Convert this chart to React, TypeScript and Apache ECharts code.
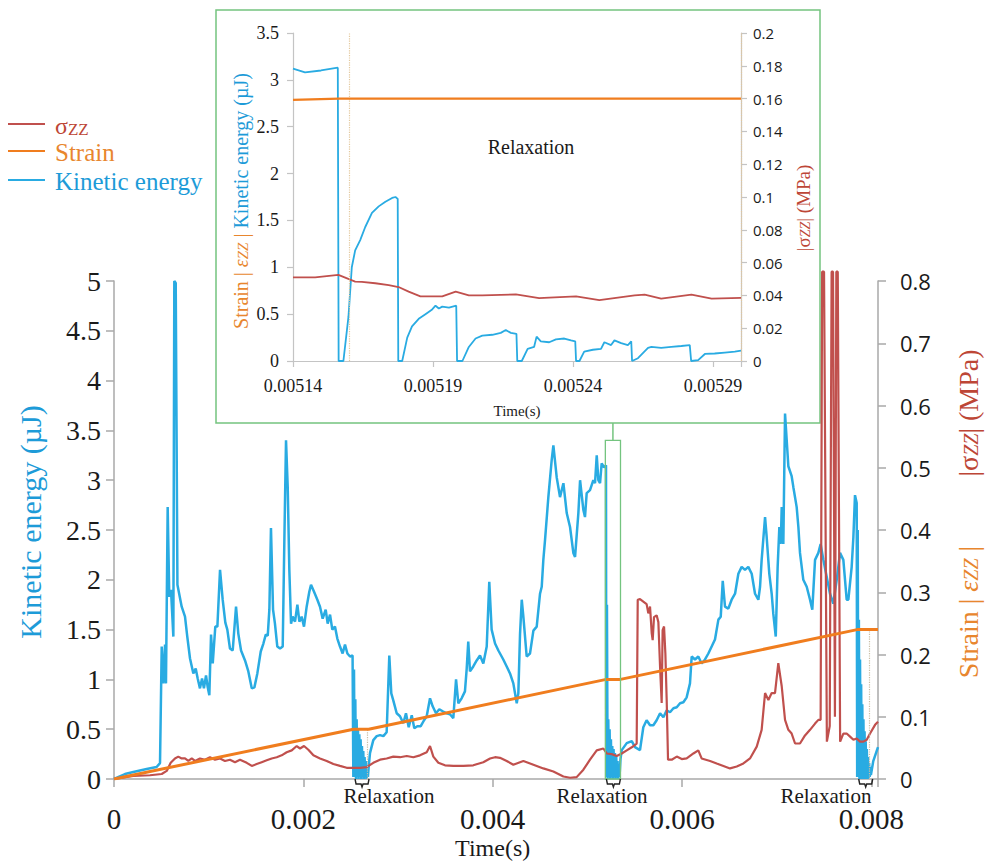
import React, { useEffect, useRef } from "react";
import * as echarts from "echarts";

// ---------------- colours / fonts ----------------
const BLUE = "#29abe2";
const BLUE_TXT = "#1d9bd8";
const RED = "#c0504d";
const RED_TXT = "#bd4636";
const ORANGE = "#f07d1e";
const ORANGE_TXT = "#e8862e";
const GREEN = "#74c47f";
const AXIS = "#a8a8a8";
const SERIF = "'Liberation Serif', 'Times New Roman', serif";
const SANS = "'Open Sans', 'Liberation Sans', sans-serif";

// ---------------- main chart data (time in ms) ----------------
// Kinetic energy (µJ)
const kineticMain: [number, number][] = [
  [0, 0], [0.116, 0.05], [0.204, 0.07], [0.345, 0.1], [0.45, 0.12], [0.486, 0.16], [0.504, 1.33], [0.521, 0.96],
  [0.539, 1.35], [0.549, 0.96], [0.567, 2.73], [0.584, 1.83], [0.602, 1.9], [0.627, 1.43], [0.637, 5.0], [0.652, 4.98],
  [0.67, 1.95], [0.715, 1.73], [0.75, 1.63], [0.774, 1.43], [0.803, 1.21], [0.838, 1.06], [0.863, 1.11], [0.884, 1.01],
  [0.908, 0.91], [0.93, 1.01], [0.95, 0.91], [0.972, 1.04], [0.99, 0.92], [1.007, 0.84], [1.025, 1.45], [1.043, 1.16],
  [1.07, 1.53], [1.092, 1.53], [1.12, 2.1], [1.148, 1.8], [1.176, 1.57], [1.197, 1.5], [1.225, 1.31], [1.254, 1.29],
  [1.289, 1.73], [1.313, 1.46], [1.342, 1.29], [1.384, 1.19], [1.419, 1.08], [1.455, 0.91], [1.483, 0.92], [1.514, 1.06],
  [1.55, 1.28], [1.578, 1.36], [1.603, 1.45], [1.624, 1.44], [1.641, 1.7], [1.658, 2.52], [1.68, 1.7], [1.7, 1.56],
  [1.725, 1.33], [1.754, 1.31], [1.782, 1.33], [1.8, 2.43], [1.817, 3.4], [1.835, 2.93], [1.852, 2.1], [1.87, 1.56],
  [1.887, 1.63], [1.912, 1.58], [1.937, 1.75], [1.958, 1.58], [1.982, 1.63], [2.007, 1.53], [2.035, 1.73], [2.063, 1.88],
  [2.081, 1.95], [2.113, 1.88], [2.148, 1.8], [2.176, 1.73], [2.204, 1.61], [2.236, 1.7], [2.257, 1.56], [2.282, 1.65],
  [2.306, 1.5], [2.334, 1.53], [2.359, 1.41], [2.387, 1.33], [2.415, 1.26], [2.44, 1.35], [2.465, 1.26], [2.493, 1.23],
  [2.52, 1.24],
  // relaxation 1
  [2.528, 0.02], [2.535, 1.1], [2.542, 0.02], [2.549, 0.8], [2.556, 0], [2.563, 0.6], [2.57, 0.02], [2.577, 0.5],
  [2.584, 0], [2.591, 0.45], [2.598, 0.02], [2.605, 0.4], [2.612, 0], [2.619, 0.33], [2.626, 0.02], [2.633, 0.28],
  [2.64, 0], [2.647, 0.22], [2.654, 0.02], [2.661, 0.18], [2.668, 0], [2.675, 0.14], [2.682, 0.02], [2.69, 0.12],
  [2.704, 0.26], [2.739, 0.39], [2.775, 0.43], [2.81, 0.44], [2.845, 0.43], [2.88, 0.47], [2.908, 1.24], [2.929, 0.86],
  [2.95, 0.79], [2.986, 0.66], [3.021, 0.63], [3.056, 0.56], [3.084, 0.66], [3.113, 0.52], [3.145, 0.64], [3.172, 0.51],
  [3.204, 0.53], [3.24, 0.53], [3.275, 0.59], [3.303, 0.63], [3.338, 0.81], [3.366, 0.73], [3.401, 0.66], [3.436, 0.7],
  [3.472, 0.68], [3.514, 0.66], [3.549, 0.65], [3.584, 0.61], [3.613, 1.0], [3.637, 0.76], [3.672, 0.81], [3.707, 0.88],
  [3.725, 1.1], [3.742, 1.38], [3.76, 1.08], [3.795, 1.13], [3.831, 1.19], [3.866, 1.24], [3.901, 1.16], [3.937, 1.33],
  [3.964, 1.98], [3.989, 1.5], [4.025, 1.36], [4.06, 1.29], [4.112, 1.2], [4.148, 1.13], [4.183, 1.06], [4.218, 0.96],
  [4.254, 0.76], [4.271, 0.86], [4.289, 1.46], [4.307, 1.8], [4.324, 1.63], [4.359, 1.23], [4.394, 1.26], [4.43, 1.49],
  [4.465, 1.53], [4.5, 1.86], [4.518, 1.93], [4.535, 2.2], [4.553, 2.4], [4.588, 2.83], [4.623, 3.2], [4.641, 3.35],
  [4.676, 3.03], [4.711, 2.83], [4.747, 2.97], [4.782, 2.67], [4.817, 2.53], [4.852, 2.27], [4.87, 2.23], [4.905, 2.67],
  [4.923, 3.0], [4.958, 2.7], [4.975, 2.63], [4.993, 2.87], [5.028, 2.9], [5.063, 3.0], [5.081, 2.97], [5.099, 3.25],
  [5.116, 3.0], [5.134, 2.97], [5.151, 3.17], [5.176, 3.13], [5.197, 3.15],
  // relaxation 2
  [5.2, 0.02], [5.207, 1.75], [5.214, 0], [5.221, 0.6], [5.228, 0.02], [5.235, 0.5], [5.242, 0], [5.249, 0.4],
  [5.256, 0.02], [5.263, 0.33], [5.27, 0], [5.277, 0.3], [5.284, 0.02], [5.291, 0.26], [5.298, 0], [5.305, 0.22],
  [5.312, 0.02], [5.319, 0.18], [5.326, 0], [5.333, 0.15], [5.34, 0.02], [5.35, 0.2],
  [5.363, 0.29], [5.416, 0.36], [5.469, 0.38], [5.503, 0.32], [5.556, 0.29], [5.591, 0.52], [5.626, 0.59], [5.662, 0.54],
  [5.697, 0.54], [5.732, 0.59], [5.768, 0.66], [5.803, 0.62], [5.838, 0.69], [5.873, 0.67], [5.909, 0.71], [5.944, 0.72],
  [5.979, 0.76], [6.014, 0.77], [6.049, 0.82], [6.084, 0.96], [6.102, 1.23], [6.137, 1.2], [6.172, 1.23], [6.207, 1.16],
  [6.243, 1.2], [6.278, 1.26], [6.313, 1.33], [6.348, 1.4], [6.384, 1.6], [6.409, 1.63], [6.43, 1.99], [6.454, 1.73],
  [6.489, 1.71], [6.524, 1.8], [6.56, 1.86], [6.595, 2.06], [6.63, 2.13], [6.665, 2.1], [6.7, 2.13], [6.736, 2.06],
  [6.771, 1.86], [6.806, 1.8], [6.824, 1.93], [6.841, 2.2], [6.877, 2.63], [6.894, 2.43], [6.922, 2.06], [6.947, 1.86],
  [6.964, 1.66], [6.99, 1.43], [7.01, 2.13], [7.028, 2.53], [7.043, 2.36], [7.053, 2.73], [7.07, 2.36], [7.088, 3.67],
  [7.123, 3.14], [7.158, 3.04], [7.176, 2.93], [7.211, 2.73], [7.229, 2.53], [7.246, 2.27], [7.281, 2.0], [7.317, 1.93],
  [7.352, 1.8], [7.376, 1.7], [7.405, 2.2], [7.44, 2.27], [7.464, 2.36], [7.493, 2.2], [7.528, 2.03], [7.563, 1.86],
  [7.598, 1.76], [7.634, 2.0], [7.669, 2.27], [7.704, 2.2], [7.739, 1.8], [7.757, 1.8], [7.792, 2.13], [7.81, 2.43],
  [7.827, 2.85], [7.845, 2.77],
  // relaxation 3
  [7.85, 0.02], [7.856, 2.5], [7.862, 0.02], [7.868, 1.6], [7.874, 0], [7.88, 1.2], [7.886, 0.02], [7.892, 0.95],
  [7.898, 0], [7.904, 0.75], [7.91, 0.02], [7.916, 0.6], [7.922, 0], [7.928, 0.48], [7.934, 0.02], [7.94, 0.38],
  [7.946, 0], [7.952, 0.3], [7.958, 0.02], [7.964, 0.22], [7.97, 0], [7.976, 0.16], [7.982, 0.02], [7.988, 0.12],
  [7.995, 0.04], [8.02, 0.18], [8.045, 0.25], [8.07, 0.32],
];

// |σzz| (MPa)
const stressMain: [number, number][] = [
  [0, 0], [0.204, 0.005], [0.38, 0.006], [0.504, 0.008], [0.557, 0.013], [0.599, 0.026], [0.644, 0.033], [0.679, 0.036],
  [0.715, 0.033], [0.75, 0.033], [0.785, 0.029], [0.821, 0.033], [0.856, 0.029], [0.908, 0.033], [0.961, 0.031],
  [1.014, 0.035], [1.067, 0.031], [1.12, 0.033], [1.172, 0.029], [1.225, 0.031], [1.278, 0.027], [1.331, 0.031],
  [1.402, 0.026], [1.455, 0.021], [1.507, 0.024], [1.56, 0.027], [1.613, 0.03], [1.666, 0.033], [1.719, 0.035],
  [1.771, 0.038], [1.824, 0.043], [1.877, 0.046], [1.93, 0.053], [1.965, 0.049], [2.007, 0.053], [2.053, 0.047],
  [2.106, 0.038], [2.176, 0.033], [2.247, 0.029], [2.317, 0.024], [2.387, 0.021], [2.458, 0.018], [2.528, 0.018],
  [2.599, 0.018], [2.669, 0.019], [2.739, 0.026], [2.81, 0.031], [2.88, 0.033], [2.95, 0.036], [3.021, 0.035],
  [3.092, 0.037], [3.162, 0.035], [3.232, 0.038], [3.303, 0.043], [3.338, 0.053], [3.373, 0.036], [3.426, 0.026],
  [3.496, 0.022], [3.584, 0.021], [3.69, 0.021], [3.795, 0.022], [3.901, 0.027], [3.972, 0.033], [4.025, 0.035],
  [4.077, 0.034], [4.148, 0.029], [4.218, 0.023], [4.324, 0.029], [4.43, 0.023], [4.535, 0.017], [4.641, 0.012],
  [4.747, 0.004], [4.817, 0.002], [4.887, 0.003], [4.958, 0.015], [5.028, 0.031], [5.099, 0.046], [5.169, 0.049],
  [5.204, 0.041], [5.257, 0.04], [5.31, 0.037], [5.363, 0.041], [5.416, 0.046], [5.469, 0.051], [5.521, 0.057],
  [5.532, 0.288], [5.556, 0.289], [5.591, 0.285], [5.626, 0.281], [5.644, 0.266], [5.662, 0.277], [5.68, 0.234],
  [5.69, 0.223], [5.704, 0.26], [5.732, 0.263], [5.75, 0.252], [5.768, 0.18], [5.785, 0.122], [5.795, 0.239],
  [5.81, 0.245], [5.824, 0.202], [5.838, 0.127], [5.852, 0.031], [5.891, 0.031], [5.944, 0.036], [5.997, 0.032],
  [6.049, 0.033], [6.12, 0.041], [6.172, 0.046], [6.207, 0.033], [6.296, 0.029], [6.366, 0.025], [6.437, 0.021],
  [6.507, 0.017], [6.578, 0.02], [6.648, 0.025], [6.718, 0.033], [6.789, 0.052], [6.841, 0.079], [6.877, 0.138],
  [6.912, 0.127], [6.947, 0.138], [6.982, 0.138], [7.017, 0.186], [7.053, 0.149], [7.088, 0.095], [7.123, 0.079],
  [7.158, 0.073], [7.194, 0.057], [7.246, 0.057], [7.299, 0.07], [7.352, 0.079], [7.405, 0.089], [7.44, 0.095],
  [7.464, 0.095], [7.48, 0.815], [7.5, 0.815], [7.53, 0.06], [7.56, 0.085], [7.58, 0.815], [7.595, 0.815],
  [7.615, 0.1], [7.63, 0.815], [7.645, 0.815], [7.67, 0.06], [7.704, 0.073], [7.739, 0.073], [7.775, 0.068],
  [7.81, 0.063], [7.845, 0.065], [7.88, 0.06], [7.916, 0.06], [7.951, 0.063], [7.986, 0.073], [8.039, 0.087],
  [8.07, 0.092],
];

// Strain |εzz|
const strainMain: [number, number][] = [
  [0, 0], [2.53, 0.08], [2.69, 0.08], [5.2, 0.16], [5.35, 0.16], [7.85, 0.24], [8.07, 0.24],
];

// relaxation annotations (ms)
const relaxationMarks = [2.62, 5.275, 7.94];
const relaxationLabelAt = [2.905, 5.155, 7.52];
const relaxationGuides: [number, number][] = [[2.68, 0.08], [7.98, 0.24]];
const zoomWindow = [5.19, 5.35, 3.4]; // t start, t end, top (µJ)

// ---------------- inset data (time in ms) ----------------
const INSET_T0 = 5.14;
const kineticInset: [number, number][] = [
  [5.14, 3.12], [5.1443, 3.08], [5.15, 3.1], [5.156, 3.13], [5.1563, 0], [5.158, 0], [5.1598, 0.47], [5.161, 1.0],
  [5.1622, 1.18], [5.164, 1.29], [5.1658, 1.43], [5.1682, 1.58], [5.1706, 1.65], [5.173, 1.7], [5.1754, 1.74],
  [5.1766, 1.75], [5.1774, 1.73], [5.1776, 0], [5.179, 0], [5.1808, 0.25], [5.1825, 0.37], [5.1849, 0.45],
  [5.1873, 0.5], [5.1897, 0.55], [5.1909, 0.59], [5.1921, 0.56], [5.1933, 0.58], [5.1957, 0.57], [5.197, 0.58],
  [5.1983, 0.59], [5.1986, 0], [5.2005, 0], [5.2028, 0.15], [5.2052, 0.24], [5.2076, 0.27], [5.2112, 0.28],
  [5.2142, 0.3], [5.216, 0.33], [5.2178, 0.3], [5.2198, 0.29], [5.2201, 0], [5.2217, 0], [5.2238, 0.13],
  [5.2261, 0.15], [5.227, 0.26], [5.2285, 0.21], [5.2315, 0.2], [5.2339, 0.23], [5.2369, 0.24], [5.2393, 0.22],
  [5.2408, 0.21], [5.2411, 0], [5.2423, 0], [5.244, 0.1], [5.2471, 0.12], [5.25, 0.13], [5.2512, 0.2],
  [5.2536, 0.17], [5.2548, 0.22], [5.2572, 0.19], [5.2596, 0.17], [5.2608, 0.21], [5.2611, 0], [5.2632, 0.03],
  [5.2668, 0.14], [5.268, 0.15], [5.2715, 0.14], [5.2751, 0.15], [5.2787, 0.16], [5.2817, 0.17], [5.2822, 0],
  [5.2847, 0.01], [5.2871, 0.075], [5.2906, 0.08], [5.2942, 0.09], [5.2978, 0.1], [5.3, 0.11],
];
const stressInset: [number, number][] = [
  [5.14, 0.051], [5.1479, 0.051], [5.1562, 0.0525], [5.1622, 0.0484], [5.1646, 0.0482], [5.1694, 0.0474],
  [5.1742, 0.0463], [5.1777, 0.0451], [5.1813, 0.0423], [5.1855, 0.0394], [5.1933, 0.0394], [5.1981, 0.0423],
  [5.2028, 0.04], [5.2076, 0.04], [5.2196, 0.0406], [5.2279, 0.0383], [5.2315, 0.0386], [5.2411, 0.0394],
  [5.2494, 0.0371], [5.262, 0.04], [5.2656, 0.0405], [5.2715, 0.038], [5.2823, 0.0405], [5.2895, 0.038],
  [5.3, 0.0385],
];
const strainInset: [number, number][] = [[5.14, 0.1592], [5.1565, 0.16], [5.3, 0.16]];
const insetGuides = [5.1594, 5.2973];

export default function App() {
  const ref = useRef<HTMLDivElement>(null);

  useEffect(() => {
    const chart = echarts.init(ref.current as HTMLDivElement, null, { renderer: "svg" });
    const inset = (arr: [number, number][]) => arr.map(([t, v]) => [+(t - INSET_T0).toFixed(6), v]);

    const axisCommon = {
      axisLine: { show: true, lineStyle: { color: AXIS, width: 1.5 } },
      axisTick: { show: true, length: 8, lineStyle: { color: AXIS, width: 1.5 } },
      splitLine: { show: false },
    };
    const insetAxis = {
      axisLine: { show: true, lineStyle: { color: "#c4c4c4", width: 1.2 } },
      axisTick: { show: true, length: 6, lineStyle: { color: "#c4c4c4", width: 1.2 } },
      splitLine: { show: false },
    };

    const option: any = {
      animation: false,
      backgroundColor: "#fff",
      grid: [
        { left: 114, right: 107, top: 281, bottom: 83 },
        { left: 293, right: 244, top: 33, bottom: 501 },
      ],
      xAxis: [
        {
          gridIndex: 0, type: "value", min: 0, max: 8.07, interval: 2, ...axisCommon,
          axisLabel: {
            margin: 25, fontFamily: SERIF, fontSize: 29, color: "#1a1a1a",
            formatter: (v: number) => (Math.abs(v / 2 - Math.round(v / 2)) < 1e-6 ? String(+(v / 1000).toFixed(3)) : ""),
          },
        },
        {
          gridIndex: 1, type: "value", min: 0, max: 0.16, interval: 0.05, ...insetAxis,
          axisLabel: {
            margin: 16, fontFamily: SERIF, fontSize: 18, color: "#1a1a1a",
            formatter: (v: number) => {
              const k = Math.round(v / 0.05);
              if (Math.abs(v - k * 0.05) > 1e-6) return "";
              return ((INSET_T0 + k * 0.05) / 1000).toFixed(5);
            },
          },
        },
      ],
      yAxis: [
        {
          gridIndex: 0, type: "value", position: "left", min: 0, max: 5, interval: 0.5, ...axisCommon,
          axisLabel: { margin: 13, fontFamily: SERIF, fontSize: 28, color: "#1a1a1a" },
        },
        {
          gridIndex: 0, type: "value", position: "right", min: 0, max: 0.8, interval: 0.1, ...axisCommon,
          axisLabel: { margin: 22, fontFamily: SANS, fontSize: 22, color: "#1a1a1a" },
        },
        {
          gridIndex: 1, type: "value", position: "left", min: 0, max: 3.5, interval: 0.5, ...insetAxis,
          axisLabel: { margin: 14, fontFamily: SERIF, fontSize: 18, color: "#1a1a1a" },
        },
        {
          gridIndex: 1, type: "value", position: "right", min: 0, max: 0.2, interval: 0.02, ...insetAxis,
          axisLabel: { margin: 12, fontFamily: SANS, fontSize: 15, color: "#1a1a1a" },
        },
      ],
      series: [
        {
          name: "Kinetic energy", type: "line", xAxisIndex: 0, yAxisIndex: 0, data: kineticMain,
          showSymbol: false, lineStyle: { color: BLUE, width: 2.5 }, itemStyle: { color: BLUE }, z: 3,
        },
        {
          name: "σzz", type: "line", xAxisIndex: 0, yAxisIndex: 1, data: stressMain, clip: false,
          showSymbol: false, lineStyle: { color: RED, width: 2.2 }, itemStyle: { color: RED }, z: 4,
        },
        {
          name: "Strain", type: "line", xAxisIndex: 0, yAxisIndex: 1, data: strainMain,
          showSymbol: false, lineStyle: { color: ORANGE, width: 3 }, itemStyle: { color: ORANGE }, z: 5,
          markLine: {
            silent: true, symbol: "none", label: { show: false },
            lineStyle: { color: "#c9bda4", type: "dotted", width: 1.2 },
            data: relaxationGuides.map(([t, s]) => [{ coord: [t, 0] }, { coord: [t, s] }]),
          },
        },
        {
          name: "Kinetic energy inset", type: "line", xAxisIndex: 1, yAxisIndex: 2, data: inset(kineticInset),
          showSymbol: false, lineStyle: { color: BLUE, width: 1.8 }, itemStyle: { color: BLUE }, z: 3,
        },
        {
          name: "σzz inset", type: "line", xAxisIndex: 1, yAxisIndex: 3, data: inset(stressInset),
          showSymbol: false, lineStyle: { color: RED, width: 1.8 }, itemStyle: { color: RED }, z: 4,
        },
        {
          name: "Strain inset", type: "line", xAxisIndex: 1, yAxisIndex: 3, data: inset(strainInset),
          showSymbol: false, lineStyle: { color: ORANGE, width: 2.2 }, itemStyle: { color: ORANGE }, z: 5,
          markLine: {
            silent: true, symbol: "none", label: { show: false },
            lineStyle: { color: "#e3c89c", type: "dotted", width: 1.2 },
            data: insetGuides.map((t) => ({ xAxis: +(t - INSET_T0).toFixed(6) })),
          },
        },
      ],
    };
    chart.setOption(option);

    const px = (t: number, v: number) => chart.convertToPixel({ xAxisIndex: 0, yAxisIndex: 0 }, [t, v]) as number[];
    const [bx1, by1] = px(zoomWindow[0], zoomWindow[2]);
    const [bx2, by2] = px(zoomWindow[1], 0);
    const axisY = px(0, 0)[1];
    const midX = px(4, 0)[0];
    const insetBottom = 423;

    const graphic: any[] = [
      // inset frame
      { type: "rect", shape: { x: 216, y: 10, width: 604, height: 413 }, style: { fill: "none", stroke: GREEN, lineWidth: 1.5 }, z: 1 },
      // zoom window in main chart
      { type: "rect", shape: { x: bx1, y: by1, width: bx2 - bx1, height: by2 - by1 }, style: { fill: "none", stroke: GREEN, lineWidth: 1.3 }, z: 10 },
      { type: "line", shape: { x1: (bx1 + bx2) / 2, y1: insetBottom, x2: (bx1 + bx2) / 2, y2: by1 }, style: { stroke: GREEN, lineWidth: 1.5 }, z: 10 },
      // legend
      { type: "line", shape: { x1: 8, y1: 124, x2: 45, y2: 124 }, style: { stroke: RED, lineWidth: 2 } },
      { type: "line", shape: { x1: 8, y1: 151, x2: 45, y2: 151 }, style: { stroke: ORANGE, lineWidth: 2 } },
      { type: "line", shape: { x1: 8, y1: 180, x2: 45, y2: 180 }, style: { stroke: BLUE, lineWidth: 2 } },
      {
        type: "text", x: 55, y: 126,
        style: {
          text: "{s|σ}{z|ZZ}", verticalAlign: "middle",
          rich: {
            s: { fontFamily: SERIF, fontSize: 24, fill: RED_TXT, color: RED_TXT },
            z: { fontFamily: SERIF, fontSize: 17, fill: RED_TXT, color: RED_TXT, padding: [6, 0, 0, 0] },
          },
        },
      },
      { type: "text", x: 55, y: 152, style: { text: "Strain", fontFamily: SERIF, fontSize: 25, fill: ORANGE_TXT, verticalAlign: "middle" } },
      { type: "text", x: 55, y: 181, style: { text: "Kinetic energy", fontFamily: SERIF, fontSize: 25, fill: BLUE_TXT, verticalAlign: "middle" } },
      // main axis names
      {
        type: "text", x: 30, y: 522, rotation: Math.PI / 2,
        style: { text: "Kinetic energy (µJ)", fontFamily: SERIF, fontSize: 30, fill: BLUE_TXT, align: "center", verticalAlign: "middle" },
      },
      {
        type: "text", x: 968, y: 413, rotation: Math.PI / 2,
        style: {
          text: "{a||}{a|σ}{b|ZZ}{a|| (MPa)}", align: "center", verticalAlign: "middle",
          rich: {
            a: { fontFamily: SERIF, fontSize: 28, fill: RED_TXT, color: RED_TXT },
            b: { fontFamily: SERIF, fontSize: 20, fontStyle: "italic", fill: RED_TXT, color: RED_TXT, padding: [6, 0, 0, 0] },
          },
        },
      },
      {
        type: "text", x: 968, y: 612, rotation: Math.PI / 2,
        style: {
          text: "{a|Strain | }{e|ε}{b|ZZ}{a| |}", align: "center", verticalAlign: "middle",
          rich: {
            a: { fontFamily: SERIF, fontSize: 28, fill: ORANGE_TXT, color: ORANGE_TXT },
            e: { fontFamily: SERIF, fontSize: 28, fontStyle: "italic", fill: ORANGE_TXT, color: ORANGE_TXT },
            b: { fontFamily: SERIF, fontSize: 20, fontStyle: "italic", fill: ORANGE_TXT, color: ORANGE_TXT, padding: [6, 0, 0, 0] },
          },
        },
      },
      {
        type: "text", x: midX, y: 848,
        style: { text: "Time(s)", fontFamily: SERIF, fontSize: 24, fill: "#1a1a1a", align: "center", verticalAlign: "middle" },
      },
      // inset texts
      {
        type: "text", x: 241, y: 201, rotation: Math.PI / 2,
        style: {
          text: "{o|Strain | }{e|ε}{z|ZZ}{o| |}{sp| }{b|Kinetic energy (µJ)}", align: "center", verticalAlign: "middle",
          rich: {
            o: { fontFamily: SERIF, fontSize: 20, fill: ORANGE_TXT, color: ORANGE_TXT },
            e: { fontFamily: SERIF, fontSize: 20, fontStyle: "italic", fill: ORANGE_TXT, color: ORANGE_TXT },
            z: { fontFamily: SERIF, fontSize: 15, fontStyle: "italic", fill: ORANGE_TXT, color: ORANGE_TXT, padding: [4, 0, 0, 0] },
            sp: { fontFamily: SERIF, fontSize: 20 },
            b: { fontFamily: SERIF, fontSize: 20, fill: BLUE_TXT, color: BLUE_TXT },
          },
        },
      },
      {
        type: "text", x: 803, y: 208, rotation: Math.PI / 2,
        style: {
          text: "{a||}{a|σ}{b|ZZ}{a|| (MPa)}", align: "center", verticalAlign: "middle",
          rich: {
            a: { fontFamily: SERIF, fontSize: 19, fill: RED_TXT, color: RED_TXT },
            b: { fontFamily: SERIF, fontSize: 14, fontStyle: "italic", fill: RED_TXT, color: RED_TXT, padding: [4, 0, 0, 0] },
          },
        },
      },
      { type: "text", x: 531, y: 147, style: { text: "Relaxation", fontFamily: SERIF, fontSize: 20, fill: "#1a1a1a", align: "center", verticalAlign: "middle" } },
      { type: "text", x: 517, y: 411, style: { text: "Time(s)", fontFamily: SERIF, fontSize: 15, fill: "#1a1a1a", align: "center", verticalAlign: "middle" } },
    ];

    relaxationMarks.forEach((t) => {
      const bx = px(t, 0)[0];
      graphic.push({
        type: "polyline", z: 12,
        shape: { points: [[bx - 7, axisY], [bx - 6, axisY + 5], [bx - 1, axisY + 5], [bx, axisY + 8], [bx + 1, axisY + 5], [bx + 6, axisY + 5], [bx + 7, axisY]] },
        style: { stroke: "#222", lineWidth: 1.4, fill: "none" },
      });
    });
    relaxationLabelAt.forEach((t) => {
      const lx = px(t, 0)[0];
      graphic.push({
        type: "text", x: lx, y: axisY + 17, z: 12,
        style: { text: "Relaxation", fontFamily: SERIF, fontSize: 21, fill: "#1a1a1a", align: "center", verticalAlign: "middle" },
      });
    });

    chart.setOption({ graphic });
    return () => chart.dispose();
  }, []);

  return (
    <div
      ref={ref}
      style={{ position: "fixed", left: 0, top: 0, width: 985, height: 862, background: "#fff" }}
    />
  );
}
